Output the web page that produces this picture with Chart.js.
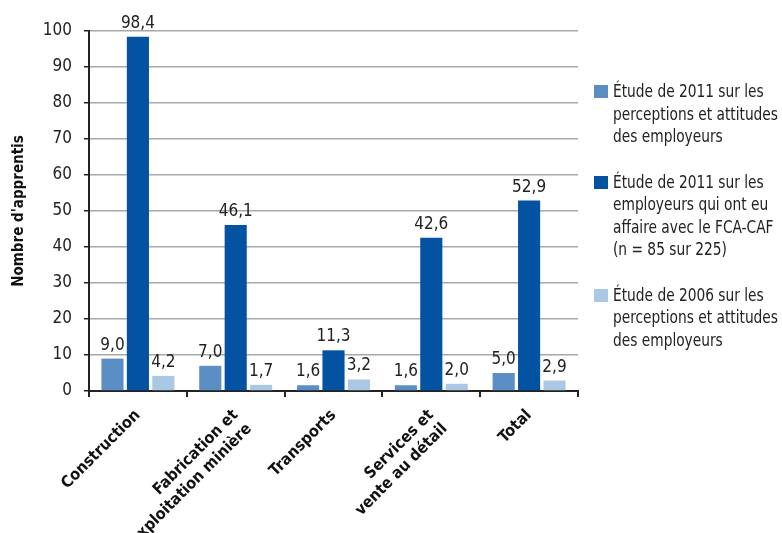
<!DOCTYPE html>
<html lang="fr">
<head>
<meta charset="utf-8">
<script src="https://cdn.jsdelivr.net/npm/chart.js@4.4.1/dist/chart.umd.min.js"></script>
<style>
  html, body { margin: 0; padding: 0; background: #ffffff; }
  #wrap { position: relative; width: 782px; height: 533px; }
  #chart { position: absolute; left: 0; top: 0; }
  #legend {
    position: absolute; left: 594px; top: 80px; width: 188px;
    font-family: 'DejaVu Sans Condensed', 'Liberation Sans Narrow', sans-serif;
    font-size: 17px; line-height: 22.5px; color: #222;
  }
  .item { position: relative; margin-bottom: 23px; }
  .swatch { position: absolute; left: 0; top: 5px; width: 14px; height: 13px; }
  .text { margin-left: 19px; white-space: nowrap; transform: scaleX(0.9); transform-origin: left center; }
</style>
</head>
<body>
<div id="wrap">
  <canvas id="chart" width="782" height="533"></canvas>
  <div id="legend"></div>
</div>
<script>
// Categories and series
const categories = [
    ['Construction'],
    ['Fabrication et', 'exploitation minière'],
    ['Transports'],
    ['Services et', 'vente au détail'],
    ['Total']
];
const seriesNames = [
    'Étude de 2011 sur les perceptions et attitudes des employeurs',
    'Étude de 2011 sur les employeurs qui ont eu affaire avec le FCA-CAF (n = 85 sur 225)',
    'Étude de 2006 sur les perceptions et attitudes des employeurs'
];
const legendLines = [
    ['Étude de 2011 sur les', 'perceptions et attitudes', 'des employeurs'],
    ['Étude de 2011 sur les', 'employeurs qui ont eu', 'affaire avec le FCA-CAF', '(n = 85 sur 225)'],
    ['Étude de 2006 sur les', 'perceptions et attitudes', 'des employeurs']
];
const perceptions2011 = [9.0, 7.0, 1.6, 1.6, 5.0];
const fcaCaf2011 = [98.4, 46.1, 11.3, 42.6, 52.9];
const perceptions2006 = [4.2, 1.7, 3.2, 2.0, 2.9];
const colors = ['#5a8ec5', '#0453a3', '#aac7e4'];

const fontFamily = "'DejaVu Sans Condensed', 'Liberation Sans Narrow', sans-serif";

// Value labels above each bar
const valueLabels = {
    id: 'valueLabels',
    afterDatasetsDraw(chart) {
        const ctx = chart.ctx;
        ctx.save();
        ctx.font = '17px ' + fontFamily;
        ctx.fillStyle = '#222';
        ctx.textAlign = 'center';
        ctx.textBaseline = 'alphabetic';
        chart.data.datasets.forEach((ds, i) => {
            chart.getDatasetMeta(i).data.forEach((bar, j) => {
                const txt = ds.data[j].toFixed(1).replace('.', ',');
                ctx.fillText(txt, bar.x, bar.y - 9);
            });
        });
        ctx.restore();
    }
};

const ctx = document.getElementById('chart').getContext('2d');
new Chart(ctx, {
    type: 'bar',
    data: {
        labels: categories,
        datasets: [
            { label: seriesNames[0], data: perceptions2011, backgroundColor: colors[0] },
            { label: seriesNames[1], data: fcaCaf2011, backgroundColor: colors[1] },
            { label: seriesNames[2], data: perceptions2006, backgroundColor: colors[2] }
        ]
    },
    options: {
        responsive: false,
        animation: false,
        devicePixelRatio: 1,
        layout: { padding: { top: 31, right: 204, left: 0, bottom: 0 } },
        datasets: { bar: { categoryPercentage: 0.78, barPercentage: 0.87 } },
        plugins: {
            legend: { display: false },
            tooltip: { enabled: false }
        },
        scales: {
            x: {
                afterFit(scale) { scale.height = 142; },
                border: { color: '#222', width: 2 },
                grid: { drawOnChartArea: false, color: '#222', tickLength: 6, lineWidth: 2, offset: true },
                ticks: {
                    maxRotation: 45, minRotation: 45,
                    color: '#111',
                    font: { family: fontFamily, size: 16, weight: 'bold', lineHeight: 1.2 },
                    padding: 9
                }
            },
            y: {
                min: 0, max: 100,
                afterFit(scale) { scale.width = 89; },
                border: { color: '#222', width: 2 },
                grid: { color: '#a8a8a8', lineWidth: 1.5, tickColor: '#222', tickLength: 5 },
                ticks: {
                    stepSize: 10,
                    color: '#222',
                    padding: 12,
                    font: { family: fontFamily, size: 17 }
                },
                title: {
                    display: true,
                    text: "Nombre d'apprentis",
                    color: '#111',
                    font: { family: fontFamily, size: 15, weight: 'bold' },
                    padding: { top: 10, bottom: 0 }
                }
            }
        }
    },
    plugins: [valueLabels]
});

// HTML legend on the right
const legendEl = document.getElementById('legend');
legendLines.forEach((lines, i) => {
    const item = document.createElement('div');
    item.className = 'item';
    const sw = document.createElement('span');
    sw.className = 'swatch';
    sw.style.background = colors[i];
    item.appendChild(sw);
    const text = document.createElement('div');
    text.className = 'text';
    lines.forEach((line, k) => {
        if (k > 0) text.appendChild(document.createElement('br'));
        text.appendChild(document.createTextNode(line));
    });
    item.appendChild(text);
    legendEl.appendChild(item);
});
</script>
</body>
</html>
